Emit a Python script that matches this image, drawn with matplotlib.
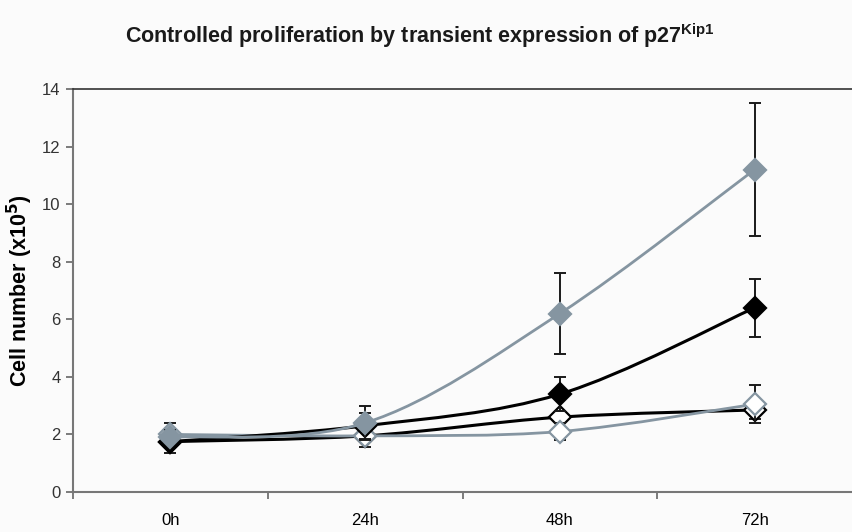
import numpy as np
import matplotlib
matplotlib.use('Agg')
import matplotlib.pyplot as plt
from matplotlib.path import Path
from matplotlib.patches import PathPatch

plt.rcParams['font.family'] = ['Liberation Sans', 'DejaVu Sans']

# time points and cell counts (x10^5)
timepoints = ['0h', '24h', '48h', '72h']
gray_filled = [1.9, 2.4, 6.2, 11.2]
gray_filled_err = [0.0, 0.6, 1.4, 2.3]
black_filled = [1.75, 2.3, 3.4, 6.4]
black_filled_err = [0.4, 0.45, 0.6, 1.0]
black_open = [1.75, 1.95, 2.6, 2.85]
black_open_err = [0.1, 0.4, 0.1, 0.3]
gray_open = [2.0, 1.95, 2.1, 3.05]
gray_open_err = [0.4, 0.1, 0.3, 0.65]

GRAY = '#8595a1'


def smooth_path(xs, ys):
    # bezier through every point, catmull-rom style tangents
    xs = np.asarray(xs, float)
    ys = np.asarray(ys, float)
    n = len(xs)
    verts = [(xs[0], ys[0])]
    codes = [Path.MOVETO]
    for i in range(n - 1):
        p0 = np.array([xs[max(i - 1, 0)], ys[max(i - 1, 0)]])
        p1 = np.array([xs[i], ys[i]])
        p2 = np.array([xs[i + 1], ys[i + 1]])
        p3 = np.array([xs[min(i + 2, n - 1)], ys[min(i + 2, n - 1)]])
        c1 = p1 + (p2 - p0) / 6.0
        c2 = p2 - (p3 - p1) / 6.0
        verts += [tuple(c1), tuple(c2), tuple(p2)]
        codes += [Path.CURVE4] * 3
    return Path(verts, codes)


fig = plt.figure(figsize=(8.52, 5.32), dpi=100, facecolor='#fbfbfb')
ax = fig.add_axes([0.0857, 0.0752, 0.9143, 0.7575])
ax.set_facecolor('#fbfbfb')

x = np.arange(len(timepoints))

series = [
    (black_open, black_open_err, 'black', 'white', 'black', 2.2),
    (gray_open, gray_open_err, GRAY, 'white', GRAY, 2.0),
    (black_filled, black_filled_err, 'black', 'black', 'black', 2.2),
    (gray_filled, gray_filled_err, GRAY, GRAY, GRAY, 2.0),
]

for z, (vals, err, lc, fc, ec, lw) in enumerate(series):
    ax.add_patch(PathPatch(smooth_path(x, vals), facecolor='none',
                           edgecolor=lc, lw=lw, zorder=2 + z))
    ax.errorbar(x, vals, yerr=err, fmt='none', ecolor='#1a1a1a',
                elinewidth=1.4, capsize=4, capthick=1.4, zorder=2 + z)
    ax.plot(x, vals, linestyle='none', marker='D', markersize=11,
            markerfacecolor=fc, markeredgecolor=ec, markeredgewidth=1.6,
            zorder=2.5 + z)

ax.set_xlim(-0.5, 3.5)
ax.set_ylim(0, 14)
ax.set_yticks(range(0, 15, 2))
ax.set_xticks(x)
ax.set_xticklabels(timepoints, fontsize=12)
ax.set_xticks([-0.5, 0.5, 1.5, 2.5], minor=True)
ax.tick_params(axis='x', which='major', length=0, pad=15)
ax.tick_params(axis='x', which='minor', length=5, color='#666666',
               direction='out', width=1.2)
ax.tick_params(axis='y', length=5, color='#666666', width=1.2,
               labelsize=12, labelcolor='#333333', pad=4)

for side in ['left', 'bottom']:
    ax.spines[side].set_color('#777777')
    ax.spines[side].set_linewidth(1.5)
ax.spines['top'].set_color('#333333')
ax.spines['top'].set_linewidth(1.2)
ax.spines['right'].set_visible(False)

ax.set_ylabel('Cell number (x10$^{\\mathbf{5}}$)', fontsize=15.5,
              fontweight='bold', labelpad=5)

fig.text(0.493, 0.932,
         'Controlled proliferation by transient expression of p27$^{\\mathregular{Kip1}}$',
         ha='center', va='center', fontsize=15.5, fontweight='bold',
         color='#1a1a1a')

fig.savefig('out.png', dpi=100, facecolor=fig.get_facecolor())
